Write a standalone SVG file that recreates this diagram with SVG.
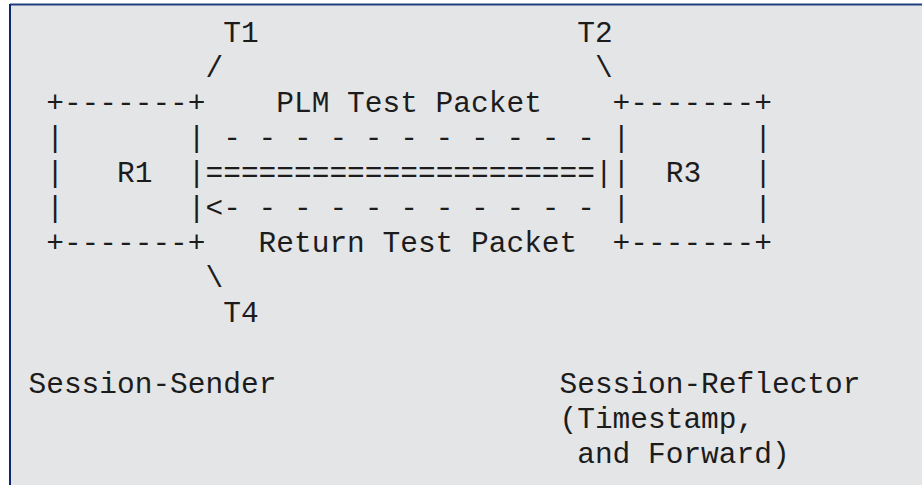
<svg xmlns="http://www.w3.org/2000/svg" width="922" height="485" viewBox="0 0 922 485">
<style>
text{font-family:"Courier New","Liberation Mono","DejaVu Sans Mono",monospace;font-size:29.5px;fill:#1c1c1c;white-space:pre}
</style>
<rect x="0" y="0" width="922" height="485" fill="#ffffff"/>
<rect x="10" y="5" width="912" height="480" fill="#e4e5e7"/>
<line x1="10" y1="4.5" x2="922" y2="4.5" stroke="#1f3f7d" stroke-width="2"/>
<line x1="10" y1="4" x2="10" y2="485" stroke="#0b2a6e" stroke-width="2"/>
<g id="R1" xml:space="preserve">
<text x="46.2" y="111.9">+-------+</text>
<text x="46.2" y="146.9">|       |</text>
<text x="46.2" y="182">|   R1  |</text>
<text x="46.2" y="217.1">|       |</text>
<text x="46.2" y="252.2">+-------+</text>
</g>
<g id="R3" xml:space="preserve">
<text x="612.6" y="111.9">+-------+</text>
<text x="612.6" y="146.9">|       |</text>
<text x="612.6" y="182">|  R3   |</text>
<text x="612.6" y="217.1">|       |</text>
<text x="612.6" y="252.2">+-------+</text>
</g>
<g id="connectors" xml:space="preserve">
<text x="223.2" y="146.9">- - - - - - - - - - -</text>
<text x="205.5" y="182">======================|</text>
<text x="205.5" y="217.1">&lt;- - - - - - - - - - -</text>
<text x="205.5" y="76.8">/</text>
<text x="594.9" y="76.8">\</text>
<text x="205.5" y="287.3">\</text>
</g>
<g id="T1"><text x="223.2" y="41.7">T1</text></g>
<g id="T2"><text x="577.2" y="41.7">T2</text></g>
<g id="T4"><text x="223.2" y="322.3">T4</text></g>
<g id="plm-label"><text x="276.3" y="111.9">PLM Test Packet</text></g>
<g id="return-label"><text x="258.6" y="252.2">Return Test Packet</text></g>
<g id="session-sender"><text x="28.5" y="392.5">Session-Sender</text></g>
<g id="session-reflector">
<text x="559.5" y="392.5">Session-Reflector</text>
<text x="559.5" y="427.6">(Timestamp,</text>
<text x="577.2" y="462.7">and Forward)</text>
</g>
</svg>
